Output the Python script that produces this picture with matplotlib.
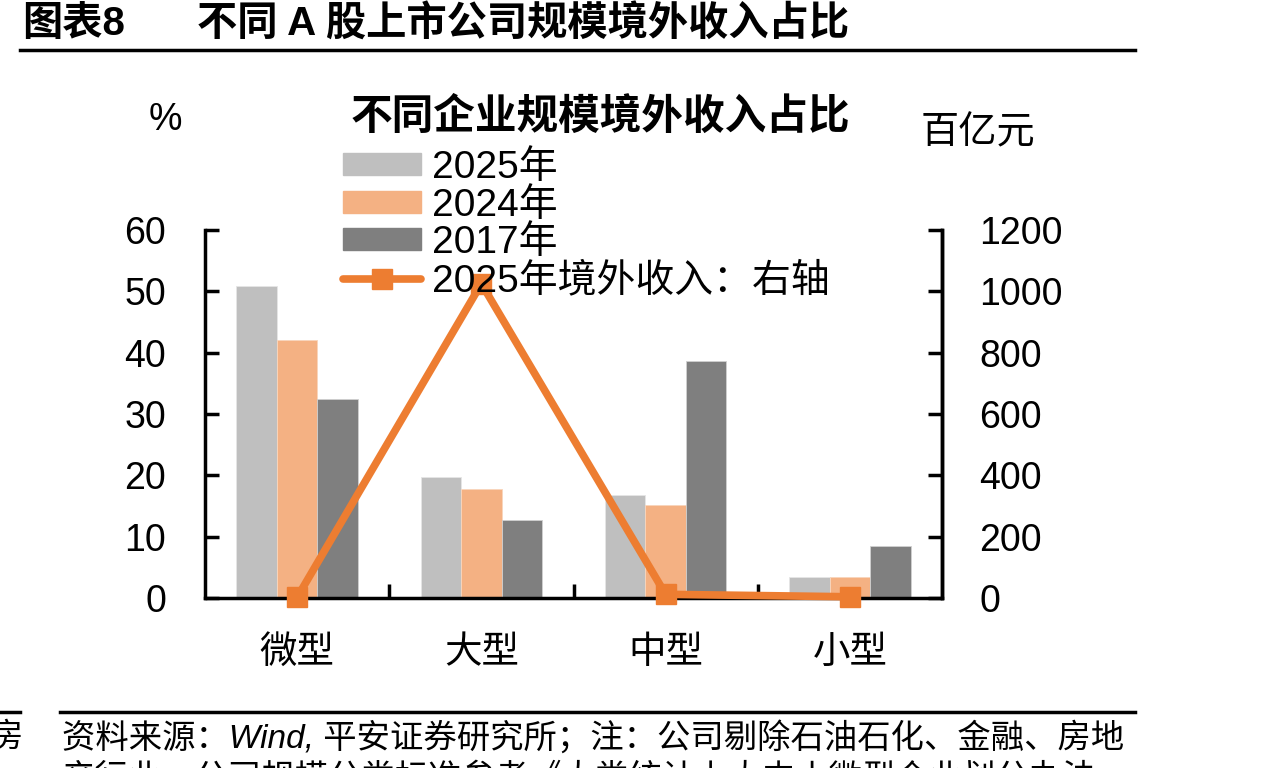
import matplotlib
matplotlib.use("Agg")
import matplotlib.pyplot as plt
from matplotlib.patches import Patch
from matplotlib.lines import Line2D

plt.rcParams['font.family'] = ['Liberation Sans', 'Noto Sans CJK SC', 'DejaVu Sans']

categories = ['微型', '大型', '中型', '小型']
share_2025 = [50.9, 19.7, 16.8, 3.4]
share_2024 = [42.1, 17.7, 15.2, 3.4]
share_2017 = [32.4, 12.7, 38.6, 8.5]
overseas_2025 = [2, 1025, 12, 4]
series_labels = ['2025年', '2024年', '2017年', '2025年境外收入：右轴']
left_ticks = [0, 10, 20, 30, 40, 50, 60]
right_ticks = [0, 200, 400, 600, 800, 1000, 1200]

c2025 = '#BFBFBF'
c2024 = '#F4B183'
c2017 = '#7F7F7F'
cline = '#ED7D31'

W, H = 1282, 768
fig = plt.figure(figsize=(W/100, H/100), dpi=100)

ax = fig.add_axes([205/W, 1-598/H, (942-205)/W, (598-230)/H])
ax2 = ax.twinx()

x = list(range(len(categories)))
bw = 0.22
ax.bar([i - bw for i in x], share_2025, bw, color=c2025, edgecolor='#E6E6E6', linewidth=0.6, label=series_labels[0])
ax.bar(x, share_2024, bw, color=c2024, edgecolor='#F8D5BC', linewidth=0.6, label=series_labels[1])
ax.bar([i + bw for i in x], share_2017, bw, color=c2017, edgecolor='#D0D0D0', linewidth=0.6, label=series_labels[2])
ax2.plot(x, overseas_2025, color=cline, lw=5.5, marker='s', ms=15, solid_capstyle='round', clip_on=False)

ax.set_xlim(-0.5, 3.5)
ax.set_ylim(0, 60)
ax2.set_ylim(0, 1200)
ax.set_yticks(left_ticks)
ax2.set_yticks(right_ticks)
ax.set_xticks([0.5, 1.5, 2.5], minor=False)
ax.set_xticklabels([])
for i, c in enumerate(categories):
    ax.text(i, -0.1, c, transform=ax.get_xaxis_transform(), ha='center', va='top', fontsize=27)

for a in (ax, ax2):
    for s in a.spines.values():
        s.set_linewidth(2.5)
    a.spines['top'].set_visible(False)
ax.tick_params(axis='y', direction='in', length=10, width=2.5, labelsize=27, pad=28)
ax2.tick_params(axis='y', direction='in', length=10, width=2.5, labelsize=27, pad=27)
ax.tick_params(axis='x', direction='in', length=10, width=2.5, bottom=True)
ax2.spines['left'].set_visible(False)
ax2.spines['bottom'].set_visible(False)

fig.text(600/W, 1-118/H, '不同企业规模境外收入占比', ha='center', va='center', fontsize=30, fontweight='bold')
fig.text(165/W, 1-120/H, '%', ha='center', va='center', fontsize=27)
fig.text(978/W, 1-133/H, '百亿元', ha='center', va='center', fontsize=27.5)

handles = [Patch(color=c2025), Patch(color=c2024), Patch(color=c2017),
           Line2D([0], [0], color=cline, lw=5.5, marker='s', ms=15, solid_capstyle='round')]
leg = fig.legend(handles, series_labels, loc='upper left', bbox_to_anchor=(343/W, 1-150/H),
                 frameon=False, fontsize=28, handlelength=2.0, handleheight=0.5,
                 handletextpad=0.3, labelspacing=0.04, borderaxespad=0, borderpad=0)

# header
fig.text(22/W, 1-24/H, '图表8', ha='left', va='center', fontsize=29, fontweight='bold')
fig.text(197/W, 1-24/H, '不同 A 股上市公司规模境外收入占比', ha='left', va='center', fontsize=29, fontweight='bold')
fig.add_artist(Line2D([20/W, 1135/W], [1-50/H, 1-50/H], color='black', lw=2.5))

# footer
fig.add_artist(Line2D([60/W, 1135/W], [1-712/H, 1-712/H], color='black', lw=2.5))
fig.add_artist(Line2D([0, 20/W], [1-712/H, 1-712/H], color='black', lw=2.5))
fig.text(62/W, 1-738/H, '资料来源：Wind, 平安证券研究所；注：公司剔除石油石化、金融、房地',
         ha='left', va='center', fontsize=24, style='italic')
fig.text(-10/W, 1-738/H, '房', ha='left', va='center', fontsize=24, style='italic')
fig.text(62/W, 1-779/H, '产行业，公司规模分类标准参考《大类统计上大中小微型企业划分办法',
         ha='left', va='center', fontsize=24, style='italic')

fig.savefig('out.png', dpi=100)
